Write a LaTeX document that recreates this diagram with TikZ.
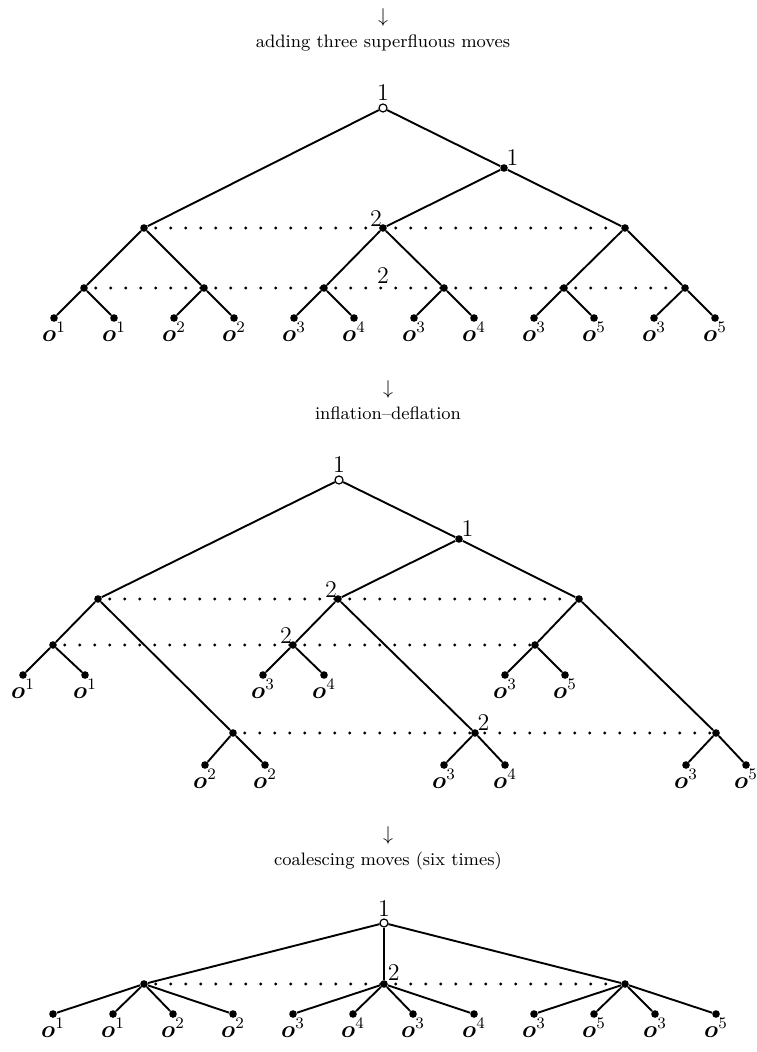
\documentclass[tikz,border=0pt]{standalone}
\usepackage{amsmath}
\usetikzlibrary{positioning}

\begin{document}
\begin{tikzpicture}[x=0.5pt, y=-0.5pt,
        move/.style={circle, fill, inner sep=0pt, minimum size=3.8pt},
        start/.style={circle, draw, fill=white, inner sep=0pt, minimum size=4pt, line width=0.6pt},
        branch/.style={line width=0.95pt},
        info/.style={line width=1.6pt, line cap=round, dash pattern=on 0pt off 7.5pt, dash phase=3.7pt},
        outc/.style={font=\large, inner sep=1pt, label distance=-1pt},
        pl/.style={font=\large, inner sep=1pt},
        caption/.style={font=\small}]
                        \useasboundingbox (0,0) rectangle (756,1052);

                        % adding three superfluous moves
                        \node (arrA) at (383,18) {$\downarrow$};
                        \node[caption, below=-3pt of arrA] (capA) {adding three superfluous moves};

                        \node[start, label={[pl]above:1}] (ar) at (383,108) {};
                        \node[move, label={[pl, label distance=-2pt]above right:1}] (a1) at (504,168) {};
                        \node[move] (aL) at (144,228) {};
                        \node[move, label={[pl, label distance=-3pt]above left:2}] (aM) at (383,228) {};
                        \node[move] (aR) at (625,228) {};
                        \foreach \x [count=\i] in {84,204,324,444,564,685}
                            \node[move] (ap\i) at (\x,288) {};
                        \node[pl] (a2) at (383,276) {2};
                        \foreach \x/\s [count=\i] in {54/1,114/1,174/2,234/2,294/3,354/4,414/3,474/4,534/3,594/5,654/3,715/5}
                            \node[move, label={[outc]below:$\boldsymbol{o}^{\s}$}] (ao\i) at (\x,318) {};

                        \draw[branch] (aL) -- (ar) -- (a1) -- (aR);
                        \draw[branch] (a1) -- (aM);
                        \draw[branch] (ap1) -- (aL) -- (ap2);
                        \draw[branch] (ap3) -- (aM) -- (ap4);
                        \draw[branch] (ap5) -- (aR) -- (ap6);
                        \foreach \i in {1,...,12} {
                            \pgfmathtruncatemacro\p{(\i+1)/2}
                            \draw[branch] (ap\p) -- (ao\i);
                        }
                        \draw[info] (aL) -- (aR);
                        \draw[info] (ap1) -- (ap6);

                        % inflation-deflation
                        \node (arrB) at (388,390) {$\downarrow$};
                        \node[caption, below=-3pt of arrB] (capB) {inflation--deflation};

                        \node[start, label={[pl]above:1}] (br) at (339,480) {};
                        \node[move, label={[pl, label distance=-2pt]above right:1}] (b1) at (459,539) {};
                        \node[move] (bL) at (98,599) {};
                        \node[move, label={[pl, label distance=-3pt]above left:2}] (bM) at (338,599) {};
                        \node[move] (bR) at (579,599) {};
                        \node[move] (bp1) at (53,645) {};
                        \node[move, label={[pl, label distance=-3pt]above left:2}] (bp2) at (293,645) {};
                        \node[move] (bp3) at (535,645) {};
                        \node[move] (bq1) at (233,733) {};
                        \node[move, label={[pl, label distance=-2pt]above right:2}] (bq2) at (475,733) {};
                        \node[move] (bq3) at (716,733) {};
                        \foreach \x/\s [count=\i] in {23/1,85/1,263/3,324/4,505/3,565/5}
                            \node[move, label={[outc]below:$\boldsymbol{o}^{\s}$}] (bo\i) at (\x,675) {};
                        \foreach \x/\s [count=\i from 7] in {205/2,265/2,444/3,505/4,686/3,746/5}
                            \node[move, label={[outc]below:$\boldsymbol{o}^{\s}$}] (bo\i) at (\x,765) {};

                        \draw[branch] (bL) -- (br) -- (b1) -- (bR);
                        \draw[branch] (b1) -- (bM);
                        \draw[branch] (bp1) -- (bL) -- (bq1);
                        \draw[branch] (bp2) -- (bM) -- (bq2);
                        \draw[branch] (bp3) -- (bR) -- (bq3);
                        \foreach \i in {1,...,6} {
                            \pgfmathtruncatemacro\p{(\i+1)/2}
                            \pgfmathtruncatemacro\j{\i+6}
                            \draw[branch] (bp\p) -- (bo\i);
                            \draw[branch] (bq\p) -- (bo\j);
                        }
                        \draw[info] (bL) -- (bR);
                        \draw[info] (bp1) -- (bp3);
                        \draw[info] (bq1) -- (bq3);

                        % coalescing moves
                        \node (arrC) at (388,835) {$\downarrow$};
                        \node[caption, below=-3pt of arrC] (capC) {coalescing moves (six times)};

                        \node[start, label={[pl]above:1}] (cr) at (384,923) {};
                        \node[move] (cL) at (144,984) {};
                        \node[move, label={[pl, label distance=-1pt]above right:2}] (cM) at (384,984) {};
                        \node[move] (cR) at (625,984) {};
                        \foreach \x/\s [count=\i] in {53/1,113/1,173/2,233/2,293/3,353/4,413/3,474/4,534/3,594/5,655/3,716/5}
                            \node[move, label={[outc]below:$\boldsymbol{o}^{\s}$}] (co\i) at (\x,1014) {};

                        \draw[branch] (cL) -- (cr) -- (cR);
                        \draw[branch] (cr) -- (cM);
                        \foreach \i in {1,...,4} {
                            \pgfmathtruncatemacro\j{\i+4}
                            \pgfmathtruncatemacro\k{\i+8}
                            \draw[branch] (cL) -- (co\i);
                            \draw[branch] (cM) -- (co\j);
                            \draw[branch] (cR) -- (co\k);
                        }
                        \draw[info] (cL) -- (cR);
                    \end{tikzpicture}
\end{document}
